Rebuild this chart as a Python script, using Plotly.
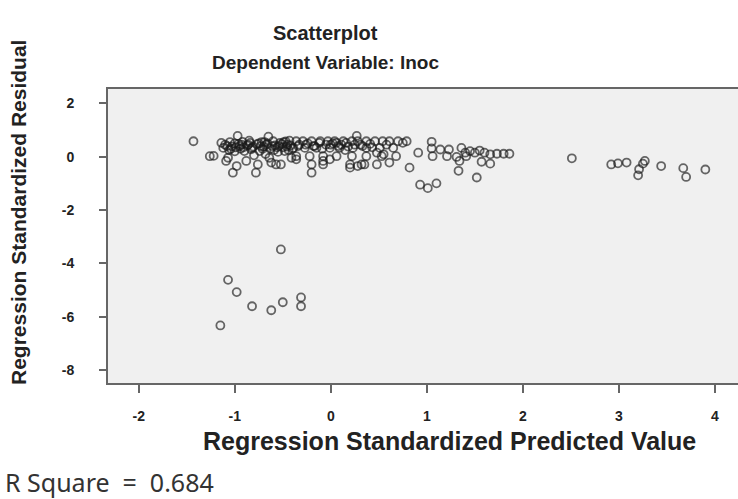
import plotly.graph_objects as go

# Regression standardized predicted values (x) and standardized residuals (y)
pred_main = [
    -1.43, -1.26, -1.22, -1.14, -1.12, -1.10, -1.09, -1.07, -1.05, -1.03, -1.02, -1.00, -0.98,
    -0.97, -0.96, -0.94, -0.92, -0.90, -0.88, -0.87, -0.85, -0.84, -0.82, -0.80, -0.78, -0.77,
    -0.76, -0.74, -0.72, -0.70, -0.68, -0.66, -0.65, -0.64, -0.63, -0.62, -0.60, -0.58, -0.57,
    -0.55, -0.53, -0.52, -0.50, -0.48, -0.47, -0.45, -0.43, -0.41, -0.40,
    -1.08, -1.04, -1.00, -0.95, -0.91, -0.86, -0.81, -0.75, -0.71, -0.67, -0.61, -0.56, -0.51,
    -0.46, -0.42, -1.06, -0.99, -0.93, -0.83, -0.73, -0.69, -0.59, -0.54, -0.49, -0.44,
    -0.39, -0.36, -0.36, -0.36, -0.33, -0.29, -0.27, -0.24, -0.22, -0.20, -0.20, -0.20, -0.18,
    -0.15, -0.12, -0.11, -0.08, -0.08, -0.08, -0.05, -0.03, -0.01, -0.01, 0.02, 0.04, 0.06,
    0.06, 0.09, 0.11, 0.13, 0.16, 0.18, 0.20, 0.20, 0.22, 0.22, 0.23, 0.27, 0.28, 0.28, 0.31,
    0.32, 0.35, 0.37, 0.37, 0.37, 0.41, 0.46, 0.48, 0.48, 0.51, 0.53, 0.54, 0.55, 0.58, 0.61,
    0.61, 0.65, 0.68, 0.70, 0.75, 0.79, 0.82,
    -0.34, -0.26, -0.17, -0.09, 0.00, 0.08, 0.15, 0.25, 0.33, 0.43,
    0.91, 0.93, 1.01, 1.05, 1.05, 1.06, 1.10, 1.14, 1.21, 1.23, 1.31, 1.33, 1.34, 1.36, 1.40,
    1.41, 1.45, 1.50, 1.52, 1.55, 1.57, 1.60, 1.66, 1.66, 1.73, 1.80, 1.86,
    2.51, 2.92, 2.99, 3.08, 3.27, 3.25, 3.21, 3.20, 3.44, 3.67, 3.70, 3.90,
]
resid_main = [
    0.58, 0.02, 0.03, 0.52, 0.33, 0.45, -0.16, -0.04, 0.55, 0.39, -0.60, 0.20, -0.35,
    0.78, 0.48, 0.30, 0.56, 0.21, -0.16, 0.42, 0.60, 0.52, 0.33, 0.05, -0.60, 0.47,
    -0.29, 0.21, 0.55, 0.38, 0.10, 0.50, 0.75, -0.04, 0.30, -0.22, 0.58, 0.42, -0.29,
    0.18, 0.52, -0.29, 0.35, 0.21, 0.57, 0.45, 0.60, -0.04, 0.30,
    0.40, 0.30, 0.50, 0.40, 0.35, 0.45, 0.38, 0.50, 0.30, 0.45, 0.40, 0.35, 0.48,
    0.38, 0.42, 0.25, 0.35, 0.45, 0.28, 0.40, 0.55, 0.25, 0.40, 0.55, 0.25,
    0.33, 0.58, 0.02, -0.10, 0.45, 0.58, 0.33, 0.50, 0.02, 0.58, -0.29, -0.60, 0.40,
    0.33, 0.52, 0.58, 0.02, -0.16, -0.29, 0.45, 0.58, 0.33, -0.10, 0.50, 0.58, 0.02,
    0.52, 0.33, 0.45, 0.58, 0.52, 0.38, -0.41, -0.29, 0.58, 0.02, 0.33, 0.78, 0.58, -0.35, 0.45,
    -0.29, -0.29, 0.58, 0.33, 0.02, 0.48, 0.58, 0.15, -0.29, 0.33, 0.02, 0.58, 0.09, 0.45, 0.58,
    -0.22, 0.33, 0.02, 0.58, 0.52, 0.58, -0.41,
    0.40, 0.45, 0.40, 0.30, 0.45, 0.40, 0.25, 0.45, 0.40, 0.35,
    0.15, -1.05, -1.18, 0.56, 0.31, 0.02, -1.00, 0.27, 0.02, 0.27, -0.01, -0.53, -0.16, 0.33, 0.15,
    0.02, 0.21, 0.15, -0.78, 0.23, -0.19, 0.15, 0.09, -0.26, 0.11, 0.11, 0.11,
    -0.06, -0.29, -0.25, -0.22, -0.16, -0.26, -0.47, -0.70, -0.35, -0.43, -0.76, -0.48,
]
pred_outliers = [-0.52, -1.07, -0.98, -0.82, -0.62, -0.50, -0.31, -0.31, -1.15]
resid_outliers = [-3.48, -4.62, -5.08, -5.61, -5.76, -5.46, -5.28, -5.61, -6.33]

x_ticks = [-2, -1, 0, 1, 2, 3, 4]
y_ticks = [2, 0, -2, -4, -6, -8]

title_line1 = "Scatterplot"
title_line2 = "Dependent Variable: lnoc"
x_title = "Regression Standardized Predicted Value"
y_title = "Regression Standardized Residual"
r_square_text = "R Square\u00a0 =\u00a0 0.684"

x_all = pred_main + pred_outliers
y_all = resid_main + resid_outliers

fig = go.Figure()
fig.add_trace(go.Scatter(
    x=x_all, y=y_all, mode="markers",
    marker=dict(symbol="circle-open", size=8,
                line=dict(width=1.8, color="rgba(25,25,25,0.65)"),
                color="rgba(25,25,25,0.65)"),
    showlegend=False, hoverinfo="x+y",
))

L, R, T, B = 108, 0, 89, 116
W, H = 738, 499
pw, ph = W - L - R, H - T - B

def px_x(p):
    return (p - L) / pw

def px_y(p):
    return (H - B - p) / ph

tick_font = dict(family="Liberation Sans, Arial", size=14, color="#222")

fig.update_layout(
    width=W, height=H,
    margin=dict(l=L, r=R, t=T, b=B),
    paper_bgcolor="white",
    plot_bgcolor="#f0f0f0",
    xaxis=dict(
        range=[-2.32, 4.24], tickvals=x_ticks,
        ticktext=[f"<b>{v}</b>" for v in x_ticks],
        tickfont=tick_font,
        showgrid=False, zeroline=False,
        showline=True, linecolor="#666", linewidth=2, mirror=True,
        ticks="outside", ticklen=8, tickcolor="#666", tickwidth=1.5,
        ticklabelstandoff=11,
    ),
    yaxis=dict(
        range=[-8.49, 2.54], tickvals=y_ticks,
        ticktext=[f"<b>{v}</b>" for v in y_ticks],
        tickfont=tick_font,
        showgrid=False, zeroline=False,
        showline=True, linecolor="#666", linewidth=2, mirror=False,
        ticks="outside", ticklen=7, tickcolor="#666", tickwidth=1.5,
        ticklabelstandoff=22,
    ),
    font=dict(family="Liberation Sans, Arial", color="#222"),
)

ann = [
    dict(text=f"<b>{title_line1}</b>", x=px_x(325), y=px_y(33), font=dict(size=20, color="#222")),
    dict(text=f"<b>{title_line2}</b>", x=px_x(325), y=px_y(63), font=dict(size=19, color="#222")),
    dict(text=f"<b>{x_title}</b>", x=px_x(449), y=px_y(441), font=dict(size=25, color="#222")),
    dict(text=f"<b>{y_title}</b>", x=px_x(18), y=px_y(213), textangle=-90,
         font=dict(size=21, color="#222")),
]
for a in ann:
    fig.add_annotation(xref="paper", yref="paper", showarrow=False,
                       xanchor="center", yanchor="middle", **a)
fig.add_annotation(text=r_square_text, xref="paper", yref="paper",
                   x=px_x(3), y=px_y(482), xanchor="left", yanchor="middle",
                   showarrow=False,
                   font=dict(family="Noto Sans, Liberation Sans", size=25, color="#333"))

fig.write_html(
    "out.html",
    config={"displayModeBar": False},
    post_script="document.body.style.margin='0';document.body.style.padding='0';",
)
